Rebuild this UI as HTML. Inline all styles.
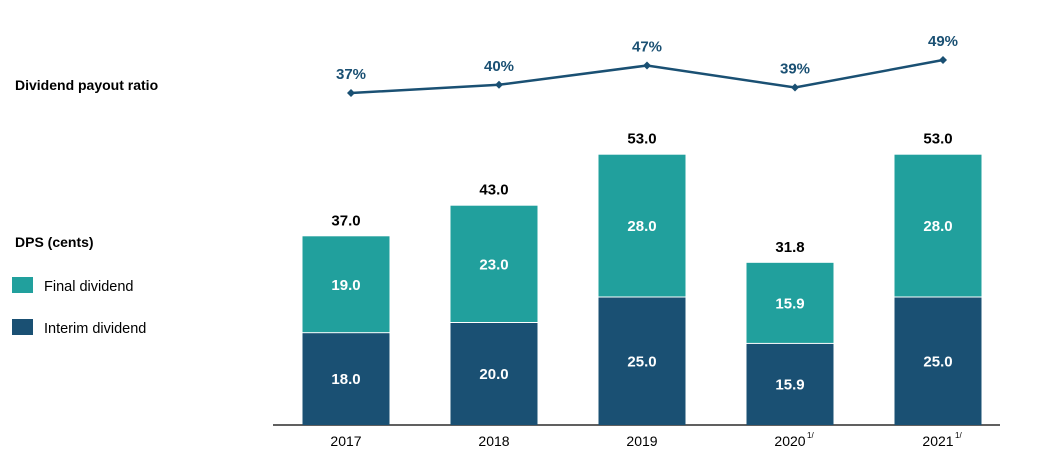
<!DOCTYPE html>
<html><head><meta charset="utf-8"><style>
body{margin:0;background:#fff;}
svg{display:block;font-family:"Liberation Sans",Arial,sans-serif;}
</style></head><body>
<svg id="chart" width="1049" height="464">
<text x="15" y="90" font-size="14" font-weight="bold" fill="#000">Dividend payout ratio</text>
<text x="15" y="247" font-size="14" font-weight="bold" fill="#000">DPS (cents)</text>
<rect x="12" y="277" width="21" height="16" fill="#21a09d"/>
<text x="44" y="291" font-size="14.5" fill="#000">Final dividend</text>
<rect x="12" y="319" width="21" height="16" fill="#1a5073"/>
<text x="44" y="333" font-size="14.5" fill="#000">Interim dividend</text>
<line x1="273" y1="425" x2="1000" y2="425" stroke="#000" stroke-width="1.3"/>
<g id="bars"></g><g id="line"></g>
</svg>
<script>
const years = ["2017","2018","2019","2020","2021"];
const sups = ["","","","1/","1/"];
const interim = [18.0,20.0,25.0,15.9,25.0];
const finalDiv = [19.0,23.0,28.0,15.9,28.0];
const totals = [37.0,43.0,53.0,31.8,53.0];
const payout = [37,40,47,39,49];
const NS="http://www.w3.org/2000/svg";
const base=425, pxPerUnit=5.1, barW=87;
const xC=i=>346+i*148;
const yB=v=>base-v*pxPerUnit;
const yL=v=>93-(v-37)*2.75;
const bars=document.getElementById('bars'), line=document.getElementById('line');
function mk(tag,attrs,parent,text){const e=document.createElementNS(NS,tag);for(const k in attrs)e.setAttribute(k,attrs[k]);if(text!==undefined)e.textContent=text;parent.appendChild(e);return e;}
years.forEach((y,i)=>{
  const x=xC(i)-barW/2;
  const r1=mk('rect',{x:x,y:yB(interim[i]),width:barW,height:interim[i]*pxPerUnit,fill:'#1a5073'},bars);
  
  
  const r2=mk('rect',{x:x,y:yB(interim[i]+finalDiv[i]),width:barW,height:finalDiv[i]*pxPerUnit-1,fill:'#21a09d'},bars);
  
  
  const t1=mk('text',{x:xC(i),y:yB(interim[i]/2)+5,'text-anchor':'middle','font-size':15,'font-weight':'bold',fill:'#fff'},bars,interim[i].toFixed(1));
  
  
  const t2=mk('text',{x:xC(i),y:yB(interim[i]+finalDiv[i]/2)+5,'text-anchor':'middle','font-size':15,'font-weight':'bold',fill:'#fff'},bars,finalDiv[i].toFixed(1));
  
  
  const t3=mk('text',{x:xC(i),y:yB(totals[i])-11,'text-anchor':'middle','font-size':15,'font-weight':'bold',fill:'#000'},bars,totals[i].toFixed(1));
  
  
  const t4=mk('text',{x:xC(i),y:446,'text-anchor':'middle','font-size':14,fill:'#000'},bars,y);
  
  
  if(sups[i]){const s=mk('text',{x:xC(i)+17,y:438,'font-size':8,fill:'#000'},bars,sups[i]);
    
    }
});
const pts=payout.map((v,i)=>(xC(i)+5)+','+yL(v)).join(' ');
const pl=mk('polyline',{points:pts,fill:'none',stroke:'#1a5073','stroke-width':2.5},line);


payout.forEach((v,i)=>{
  const cx=xC(i)+5, cy=yL(v);
  const d=mk('polygon',{points:`${cx},${cy-4} ${cx+4},${cy} ${cx},${cy+4} ${cx-4},${cy}`,fill:'#1a5073'},line);
  
  
  const t=mk('text',{x:cx,y:cy-14,'text-anchor':'middle','font-size':15,'font-weight':'bold',fill:'#1a5073'},line,v+'%');
  
  
});
</script>
</body></html>
